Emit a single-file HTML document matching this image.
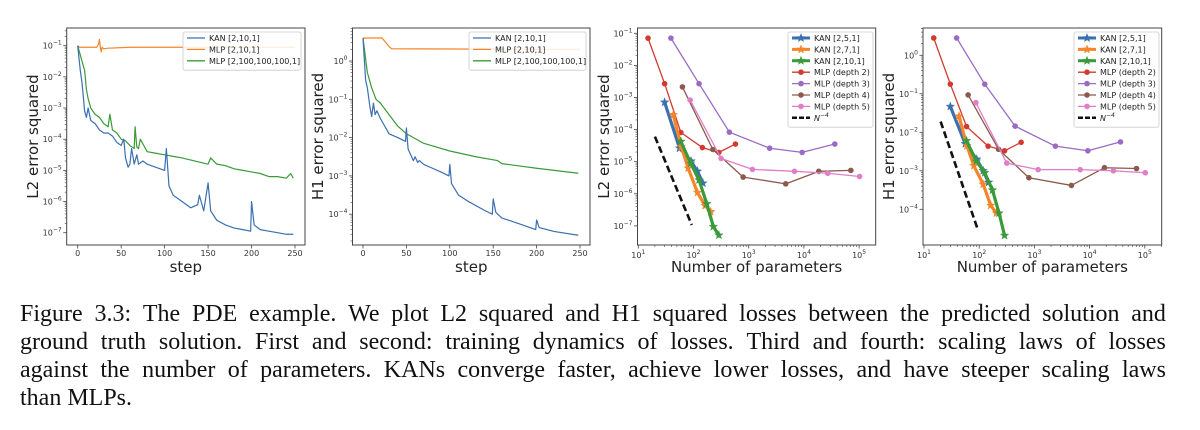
<!DOCTYPE html>
<html><head><meta charset="utf-8">
<style>
html,body{margin:0;padding:0;background:#fff;}
body{width:1200px;height:430px;overflow:hidden;position:relative;}
svg{position:absolute;left:0;top:0;}
.cap{position:absolute;left:20px;width:1146px;font-family:"Liberation Serif",serif;font-size:24px;color:#111;}
.cap div{height:28px;line-height:28px;white-space:nowrap;}
</style></head>
<body>
<svg id="fig" width="1200" height="290"></svg>
<div class="cap" style="top:300px">
<div style="display:flex;justify-content:space-between"><span>Figure</span><span>3.3:</span><span>The</span><span>PDE</span><span>example.</span><span>We</span><span>plot</span><span>L2</span><span>squared</span><span>and</span><span>H1</span><span>squared</span><span>losses</span><span>between</span><span>the</span><span>predicted</span><span>solution</span><span>and</span></div>
<div style="display:flex;justify-content:space-between"><span>ground</span><span>truth</span><span>solution.</span><span>First</span><span>and</span><span>second:</span><span>training</span><span>dynamics</span><span>of</span><span>losses.</span><span>Third</span><span>and</span><span>fourth:</span><span>scaling</span><span>laws</span><span>of</span><span>losses</span></div>
<div style="display:flex;justify-content:space-between"><span>against</span><span>the</span><span>number</span><span>of</span><span>parameters.</span><span>KANs</span><span>converge</span><span>faster,</span><span>achieve</span><span>lower</span><span>losses,</span><span>and</span><span>have</span><span>steeper</span><span>scaling</span><span>laws</span></div>
<div>than MLPs.</div>
</div>
<script>
// ---------- Panel 1 & 2 data (training steps, log10 of loss) ----------
const kanL2Steps = [0,3,5,8,10,12,15,20,25,30,35,40,45,50,53,55,58,60,62,65,68,70,75,80,90,100,102,105,110,120,130,138,140,145,150,153,160,170,180,190,199,200,203,210,220,230,240,248];
const kanL2Vals  = [-1,-1.8,-2.2,-3.1,-3.3,-3.0,-3.4,-3.5,-3.7,-3.8,-3.8,-3.9,-4.1,-4.2,-4.0,-4.6,-4.9,-4.8,-4.3,-4.8,-4.5,-4.8,-4.7,-4.8,-4.9,-5.0,-4.3,-5.5,-5.8,-6.0,-6.2,-6.1,-5.8,-6.3,-5.4,-6.3,-6.6,-6.75,-6.85,-6.9,-6.95,-6.0,-6.75,-6.9,-6.95,-7.0,-7.05,-7.05];
const mlpSmallL2Steps = [0,2,22,24,25,26,27,28,30,35,60,250];
const mlpSmallL2Vals  = [-1,-1.05,-1.05,-0.95,-0.8,-1.05,-1.2,-1.05,-1.1,-1.08,-1.05,-1.05];
const mlpBigL2Steps = [0,5,8,10,12,15,20,25,30,35,37,40,45,50,55,60,65,66,68,70,72,80,90,100,110,120,135,150,153,160,170,180,190,200,210,220,230,240,245,248];
const mlpBigL2Vals  = [-1,-1.5,-1.8,-2.4,-2.7,-3.0,-3.2,-3.3,-3.5,-3.6,-3.2,-3.7,-3.8,-4.0,-4.05,-4.2,-4.3,-3.6,-4.25,-4.3,-4.0,-4.4,-4.45,-4.5,-4.55,-4.6,-4.7,-4.8,-4.6,-4.8,-4.85,-4.95,-5.0,-5.05,-5.1,-5.2,-5.2,-5.25,-5.1,-5.25];
const kanH1Steps = [0,3,5,8,10,12,14,16,20,25,30,40,49,50,52,55,58,60,63,65,70,80,90,99,100,102,110,120,140,149,150,153,160,180,199,200,203,220,248];
const kanH1Vals  = [0.6,-0.5,-0.7,-1.2,-1.45,-1.1,-1.4,-1.3,-1.5,-1.7,-1.9,-2.0,-2.1,-1.75,-2.3,-2.45,-2.6,-2.5,-2.65,-2.6,-2.7,-2.8,-2.9,-3.0,-2.7,-3.2,-3.5,-3.65,-3.9,-4.0,-3.6,-3.95,-4.1,-4.25,-4.4,-4.15,-4.35,-4.45,-4.55];
const mlpSmallH1Steps = [0,22,30,33,250];
const mlpSmallH1Vals  = [0.6,0.6,0.38,0.32,0.3];
const mlpBigH1Steps = [0,5,10,15,20,30,40,50,70,100,130,155,160,200,248];
const mlpBigH1Vals  = [0.6,-0.3,-0.7,-1.0,-1.1,-1.4,-1.7,-1.9,-2.15,-2.35,-2.5,-2.6,-2.68,-2.8,-2.93];
const stepTicks = [0,50,100,150,200,250];

// ---------- Panel 3 & 4 data (number of parameters, log10 of loss) ----------
const kan251Params = [30,56,90,118,148];
const kan251L2 = [-3.15,-4.58,-4.98,-5.3,-5.67];
const kan271Params = [43,60,80,118,162,205];
const kan271L2 = [-3.54,-4.53,-5.2,-5.96,-6.37,-6.56];
const kan2101Params = [59,89,126,174,229,288];
const kan2101L2 = [-4.37,-5.05,-5.57,-6.31,-7.02,-7.29];
const mlpD2Params = [15,30,59,145,288,575];
const mlpD2L2 = [-1.15,-2.57,-4.09,-4.56,-4.71,-4.45];
const mlpD3Params = [39,126,447,2400,9300,36300];
const mlpD3L2 = [-1.15,-2.57,-4.08,-4.58,-4.71,-4.45];
const mlpD4Params = [63,224,794,4680,18600,70800];
const mlpD4L2 = [-2.67,-4.62,-5.48,-5.69,-5.3,-5.27];
const mlpD5Params = [87,316,1170,6760,27000,102000];
const mlpD5L2 = [-3.08,-4.9,-5.24,-5.3,-5.36,-5.46];
const nRefParams = [20,93];
const nRefL2 = [-4.22,-6.97];

const kan251H1 = [-1.33,-2.3,-2.7,-3.0,-3.3];
const kan271H1 = [-1.58,-2.35,-2.87,-3.35,-3.9,-4.1];
const kan2101H1 = [-2.22,-2.75,-3.05,-3.5,-4.1,-4.68];
const mlpD2H1 = [0.45,-0.75,-1.85,-2.36,-2.48,-2.26];
const mlpD3H1 = [0.45,-0.75,-1.84,-2.36,-2.48,-2.25];
const mlpD4H1 = [-1.03,-2.44,-3.18,-3.38,-2.92,-2.94];
const mlpD5H1 = [-1.23,-2.8,-2.97,-2.97,-3.0,-3.05];
const nRefH1 = [-1.72,-4.5];
const decadeTicks = [1,2,3,4,5];

const C = {blue:'#3a6fb0',orange:'#f5852a',green:'#3a9a3a',red:'#d03a2f',purple:'#9a6bc4',brown:'#8a5a4c',pink:'#e07fc8'};
const NS='http://www.w3.org/2000/svg';
const svg=document.getElementById('fig');
function mk(tag,attrs,parent){const e=document.createElementNS(NS,tag);for(const k in attrs)e.setAttribute(k,attrs[k]);(parent||svg).appendChild(e);return e;}
function txt(x,y,s,size,anchor,parent){const t=mk('text',{x:x,y:y,'font-size':size,'text-anchor':anchor||'middle','font-family':'DejaVu Sans, Liberation Sans, sans-serif',fill:'#222'},parent);t.textContent=s;return t;}
function powLabel(x,y,exp,parent,anchor){
  const t=mk('text',{x:x,y:y,'font-size':8,'text-anchor':anchor,'font-family':'DejaVu Sans, Liberation Sans, sans-serif',fill:'#333'},parent);
  t.appendChild(document.createTextNode('10'));
  const s=document.createElementNS(NS,'tspan');s.setAttribute('dy','-4');s.setAttribute('font-size','6');s.textContent=exp<0?'\u2212'+(-exp):''+exp;t.appendChild(s);
  return t;
}
function mkAxes(name,box,ylabel,xlabel,ylabelX){
  const g=mk('g',{});
  
  
  const fr=mk('rect',{x:box.x0,y:box.y0,width:box.x1-box.x0,height:box.y1-box.y0,fill:'none',stroke:'#444','stroke-width':1},g);
  
  
  const cy=(box.y0+box.y1)/2;
  const yl=txt(ylabelX+5,cy,ylabel,15,'middle',g);
  yl.setAttribute('transform','rotate(-90 '+(ylabelX+5)+' '+cy+')');
  
  
  const xl=txt((box.x0+box.x1)/2,272,xlabel,15,'middle',g);
  
  
  return g;
}
function logYTicks(g,box,yfn,minE,maxE){
  for(let e=minE;e<=maxE;e++){
    const y=yfn(e);
    if(y>=box.y0-0.5&&y<=box.y1+0.5){
      mk('line',{x1:box.x0-3.5,x2:box.x0,y1:y,y2:y,stroke:'#444','stroke-width':0.8},g);
      const l=powLabel(box.x0-5,y+3,e,g,'end');
      
      
    }
    for(let m=2;m<10;m++){const ym=yfn(e+Math.log10(m));if(ym>=box.y0&&ym<=box.y1)mk('line',{x1:box.x0-2,x2:box.x0,y1:ym,y2:ym,stroke:'#444','stroke-width':0.6},g);}
  }
}
function legend(g,x,y,w,entries){
  const rowH=11.4;
  mk('rect',{x:x,y:y,width:w,height:entries.length*rowH+4,fill:'#fff','fill-opacity':0.85,stroke:'#ccc','stroke-width':0.8,rx:2},g);
  entries.forEach((en,i)=>{
    const cy=y+6+i*rowH;
    const eg=mk('g',{},g);
    
    
    const lw=en.thick?3:(en.dash?2.5:1.3);
    mk('line',{x1:x+4,x2:x+22,y1:cy,y2:cy,stroke:en.color,'stroke-width':lw,'stroke-dasharray':en.dash?'5,2':'none'},eg);
    if(en.marker==='star')star(eg,x+13,cy,4.5,en.color);
    if(en.marker==='dot')mk('circle',{cx:x+13,cy:cy,r:2.8,fill:en.color},eg);
    const t=mk('text',{x:x+26,y:cy+3,'font-size':8,'font-family':'DejaVu Sans, Liberation Sans, sans-serif',fill:'#222'},eg);
    if(en.sup){t.appendChild(document.createTextNode('N'));const s=document.createElementNS(NS,'tspan');s.setAttribute('dy','-4');s.setAttribute('font-size','6');s.textContent='\u22124';t.appendChild(s);t.setAttribute('font-style','italic');}
    else t.textContent=en.label;
  });
}
function star(g,cx,cy,r,color){
  let p=[];for(let i=0;i<10;i++){const a=-Math.PI/2+i*Math.PI/5;const rr=i%2?r*0.42:r;p.push((cx+rr*Math.cos(a)).toFixed(1)+','+(cy+rr*Math.sin(a)).toFixed(1));}
  return mk('polygon',{points:p.join(' '),fill:color,stroke:color,'stroke-width':0.4},g);
}
function polyline(g,xs,ys,xf,yf,color,w,name,dash){
  const pts=xs.map((v,i)=>xf(v).toFixed(2)+','+yf(ys[i]).toFixed(2)).join(' ');
  const p=mk('polyline',{points:pts,fill:'none',stroke:color,'stroke-width':w,'stroke-linejoin':'round','stroke-dasharray':dash||'none'},g);
  
  
  return p;
}

// ---------- Panel 1 ----------
(function(){
  const box={x0:66.7,x1:305,y0:28,y1:245};
  const xf=s=>77.7+s*(295-77.7)/250, yf=v=>45.7+(-1-v)*31.17;
  const g=mkAxes('l2-training-chart',box,'L2 error squared','step',33);
  logYTicks(g,box,yf,-7,-1);
  stepTicks.forEach(s=>{const x=xf(s);mk('line',{x1:x,x2:x,y1:box.y1,y2:box.y1+3.5,stroke:'#444','stroke-width':0.8},g);const t=txt(x,256,''+s,8,'middle',g);t.setAttribute('fill','#333');});
  polyline(g,mlpSmallL2Steps,mlpSmallL2Vals,xf,yf,C.orange,1.2,'line-mlp-2-10-1');
  polyline(g,mlpBigL2Steps,mlpBigL2Vals,xf,yf,C.green,1.2,'line-mlp-2-100-100-100-1');
  polyline(g,kanL2Steps,kanL2Vals,xf,yf,C.blue,1.2,'line-kan-2-10-1');
  legend(g,183,32,118,[{label:'KAN [2,10,1]',color:C.blue},{label:'MLP [2,10,1]',color:C.orange},{label:'MLP [2,100,100,100,1]',color:C.green}]);
})();
// ---------- Panel 2 ----------
(function(){
  const box={x0:352.5,x1:590,y0:28,y1:245};
  const xf=s=>363+s*(580-363)/250, yf=v=>61+(0-v)*38.3;
  const g=mkAxes('h1-training-chart',box,'H1 error squared','step',318);
  logYTicks(g,box,yf,-5,0);
  stepTicks.forEach(s=>{const x=xf(s);mk('line',{x1:x,x2:x,y1:box.y1,y2:box.y1+3.5,stroke:'#444','stroke-width':0.8},g);const t=txt(x,256,''+s,8,'middle',g);t.setAttribute('fill','#333');});
  polyline(g,mlpSmallH1Steps,mlpSmallH1Vals,xf,yf,C.orange,1.2,'line-mlp-2-10-1');
  polyline(g,mlpBigH1Steps,mlpBigH1Vals,xf,yf,C.green,1.2,'line-mlp-2-100-100-100-1');
  polyline(g,kanH1Steps,kanH1Vals,xf,yf,C.blue,1.2,'line-kan-2-10-1');
  legend(g,469,32,117,[{label:'KAN [2,10,1]',color:C.blue},{label:'MLP [2,10,1]',color:C.orange},{label:'MLP [2,100,100,100,1]',color:C.green}]);
})();
// ---------- Panels 3 & 4 ----------
function scalingPanel(name,box,x10,dec,yf,ylabel,ylabelX,minE,maxE,vals,legX){
  const xf=p=>x10+(Math.log10(p)-1)*dec;
  const g=mkAxes(name,box,ylabel,'Number of parameters',ylabelX);
  logYTicks(g,box,yf,minE,maxE);
  decadeTicks.forEach(e=>{const x=x10+(e-1)*dec;mk('line',{x1:x,x2:x,y1:box.y1,y2:box.y1+3.5,stroke:'#444','stroke-width':0.8},g);
    for(let m=2;m<10;m++){const xm=x10+(e-1+Math.log10(m))*dec;if(xm<box.x1)mk('line',{x1:xm,x2:xm,y1:box.y1,y2:box.y1+2,stroke:'#444','stroke-width':0.6},g);}
    const l=powLabel(x,258,e,g,'middle');});
  const mlps=[[mlpD2Params,vals.d2,C.red,'line-mlp-depth-2'],[mlpD3Params,vals.d3,C.purple,'line-mlp-depth-3'],[mlpD4Params,vals.d4,C.brown,'line-mlp-depth-4'],[mlpD5Params,vals.d5,C.pink,'line-mlp-depth-5']];
  mlps.forEach(([xs,ys,c,n])=>{polyline(g,xs,ys,xf,yf,c,1.3,n);xs.forEach((p,i)=>{const d=mk('circle',{cx:xf(p),cy:yf(ys[i]),r:2.8,fill:c},g);});});
  const kans=[[kan251Params,vals.k5,C.blue,'line-kan-2-5-1'],[kan271Params,vals.k7,C.orange,'line-kan-2-7-1'],[kan2101Params,vals.k10,C.green,'line-kan-2-10-1']];
  kans.forEach(([xs,ys,c,n])=>{polyline(g,xs,ys,xf,yf,c,3.2,n);xs.forEach((p,i)=>{const s=star(g,xf(p),yf(ys[i]),4.5,c);});});
  polyline(g,nRefParams,vals.ref,xf,yf,'#111',2.6,'line-n-minus-4-reference','7,3.5');
  legend(g,legX,32,85,[{label:'KAN [2,5,1]',color:C.blue,thick:1,marker:'star'},{label:'KAN [2,7,1]',color:C.orange,thick:1,marker:'star'},{label:'KAN [2,10,1]',color:C.green,thick:1,marker:'star'},
    {label:'MLP (depth 2)',color:C.red,marker:'dot'},{label:'MLP (depth 3)',color:C.purple,marker:'dot'},{label:'MLP (depth 4)',color:C.brown,marker:'dot'},{label:'MLP (depth 5)',color:C.pink,marker:'dot'},{label:'N-4',color:'#111',dash:1,sup:1}]);
}
scalingPanel('l2-scaling-chart',{x0:637.5,x1:875.7,y0:28,y1:245},638.3,55.2,v=>33.3+(-1-v)*32.1,'L2 error squared',604,-7,-1,
  {d2:mlpD2L2,d3:mlpD3L2,d4:mlpD4L2,d5:mlpD5L2,k5:kan251L2,k7:kan271L2,k10:kan2101L2,ref:nRefL2},788);
scalingPanel('h1-scaling-chart',{x0:923,x1:1161.7,y0:28,y1:245},924,55.2,v=>55.3+(-v)*38.5,'H1 error squared',889,-4,0,
  {d2:mlpD2H1,d3:mlpD3H1,d4:mlpD4H1,d5:mlpD5H1,k5:kan251H1,k7:kan271H1,k10:kan2101H1,ref:nRefH1},1074);
</script>
</body></html>
